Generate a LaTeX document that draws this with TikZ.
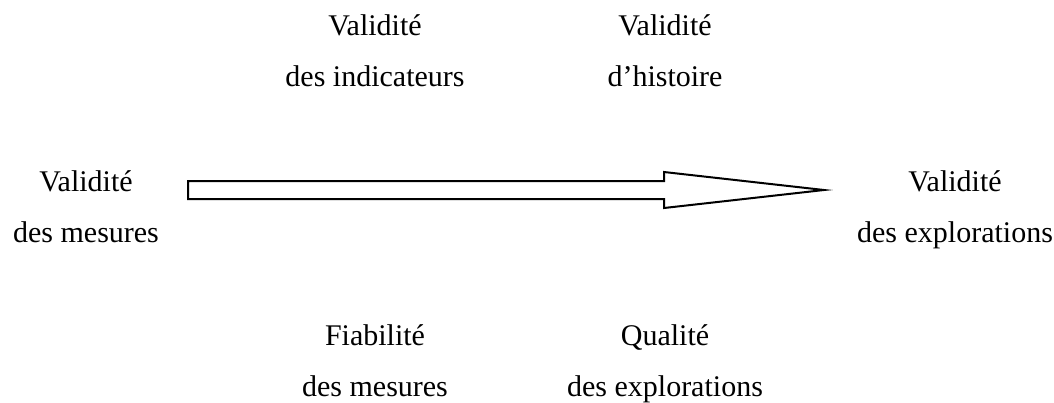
\documentclass[tikz,border=0pt]{standalone}
\usepackage{fontspec}
\setmainfont{Liberation Serif}
\usetikzlibrary{positioning}
\usetikzlibrary{calc}

\begin{document}
\begin{tikzpicture}[x=0.4pt,y=-0.4pt, every node/.style={font=\fontsize{12}{20.4}\selectfont, align=center, inner sep=0pt}]
\useasboundingbox (0,0) rectangle (1054,402);
\coordinate (a1) at (188,181);
\coordinate (a2) at (664,181);
\coordinate (a3) at (664,172);
\coordinate (a4) at (824,190);
\coordinate (a5) at (664,208);
\coordinate (a6) at (664,199);
\coordinate (a7) at (188,199);

  \draw[line width=0.8pt] (a1) to[] (a2) to[] (a3) to[] (a4) to[] (a5) to[] (a6) to[] (a7) -- cycle;

  \node (vmes) at (86,242) [anchor=base] {Validité\\des mesures};
  \node (vexp) at (955,242) [anchor=base] {Validité\\des explorations};
  \node (vind) at (375,86) [anchor=base] {Validité\\des indicateurs};
  \node (vhist) at (665,86) [anchor=base] {Validité\\d’histoire};
  \node (fmes) at (375,396) [anchor=base] {Fiabilité\\des mesures};
  \node (qexp) at (665,396) [anchor=base] {Qualité\\des explorations};
\end{tikzpicture}
\end{document}
